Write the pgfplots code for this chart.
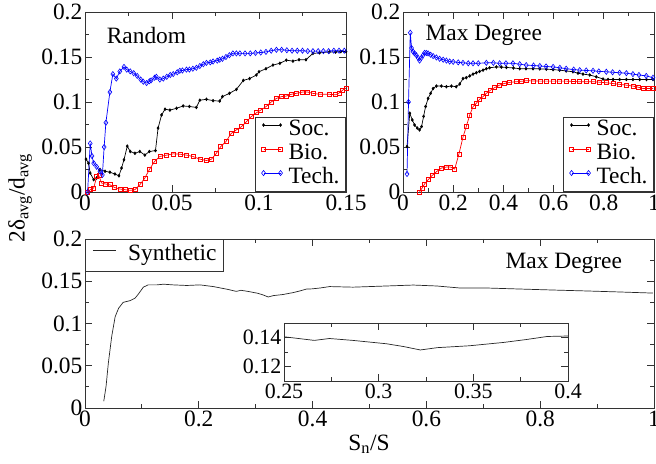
\documentclass[border=0pt]{standalone}
\usepackage{fontspec}
\setmainfont{Liberation Serif}
\usepackage{pgfplots}
\pgfplotsset{compat=1.18}
\usepackage{pgfplotstable}

\definecolor{frame}{gray}{0.2}
\newcommand{\bigfont}{\fontsize{23.5}{25}\selectfont}

% synthetic network, max degree attack
\pgfplotstableread{
x y
0.033 0.008
0.037 0.0256
0.041 0.053
0.047 0.085
0.053 0.108
0.059 0.118
0.067 0.125
0.079 0.127
0.088 0.130
0.094 0.135
0.1025 0.143
0.111 0.1457
0.126 0.1457
0.138 0.1465
0.155 0.1457
0.179 0.145
0.202 0.1457
0.2255 0.1437
0.25 0.1405
0.266 0.138
0.274 0.1393
0.2864 0.138
0.304 0.1357
0.313 0.1338
0.322 0.1314
0.331 0.133
0.348 0.1343
0.366 0.1366
0.378 0.1386
0.389 0.1407
0.399 0.141
0.413 0.142
0.43 0.1437
0.471 0.143
0.53 0.1444
0.577 0.1455
0.618 0.1444
0.659 0.142
0.706 0.142
0.764 0.1408
0.823 0.1396
0.882 0.1385
0.94 0.1373
0.998 0.136
}\synth

\pgfplotsset{
  grace/.style={
    scale only axis,
    tick align=inside,
    major tick length=7bp,
    minor tick length=4bp,
    minor tick num=1,
    axis line style={frame, line width=0.9bp},
    every tick/.append style={frame, line width=0.9bp},
    tick label style={font=\bigfont, inner sep=2.5bp},
    /pgf/number format/assume math mode=true,
    /pgf/number format/fixed,
    /pgf/number format/precision=3,
    legend cell align=left,
    legend style={draw=frame, line width=0.9bp, font=\bigfont,
      inner xsep=6bp, inner ysep=1bp, row sep=0bp, column sep=6bp,
      nodes={inner xsep=0bp, inner ysep=2bp, text height=15bp, text depth=5bp}},
    legend image code/.code={\draw[##1, mark repeat=1, mark phase=1]
      plot coordinates {(0bp,5.5bp) (17bp,5.5bp)};},
  },
  soc/.style={black, line width=0.7bp, mark=diamond*, mark size=1.3bp},
  bio/.style={red, line width=0.7bp, mark=square, mark size=2bp, mark options={line width=0.6bp}},
  tech/.style={blue, line width=0.7bp, mark=diamond, mark size=2.6bp, mark options={line width=0.6bp}},
}

\begin{document}
\begin{tikzpicture}
\useasboundingbox (0,0) rectangle (656bp,464bp);

% ---- Random ----
\begin{axis}[grace, at={(85bp,272bp)}, anchor=south west,
  width=261bp, height=180bp,
  xmin=0, xmax=0.15, ymin=0, ymax=0.2,
  xtick={0,0.05,0.1,0.15}, ytick={0,0.05,0.1,0.15,0.2},
  legend style={at={(1,0)}, anchor=south east}]
\addplot[soc] coordinates {
(0.0006,0.0365) (0.002,0.032) (0.003,0.021) (0.005,0.0137) (0.0067,0.0155)
(0.0086,0.025) (0.0115,0.023) (0.0143,0.022) (0.0172,0.020) (0.0195,0.018)
(0.021,0.0266) (0.0224,0.0358) (0.0243,0.051) (0.026,0.045) (0.0287,0.043)
(0.0315,0.045) (0.0344,0.041) (0.037,0.045) (0.0405,0.046) (0.042,0.071)
(0.044,0.0856) (0.046,0.092) (0.0488,0.091) (0.0526,0.093) (0.0564,0.0956)
(0.060,0.095) (0.064,0.094) (0.066,0.102) (0.0698,0.103) (0.0736,0.1015)
(0.0774,0.101) (0.079,0.106) (0.083,0.1096) (0.087,0.114) (0.091,0.124)
(0.0946,0.126) (0.0985,0.130) (0.100,0.1336) (0.104,0.137) (0.108,0.141)
(0.112,0.143) (0.1157,0.1465) (0.1195,0.1454) (0.123,0.147) (0.127,0.147)
(0.131,0.154) (0.1348,0.1546) (0.1405,0.1557) (0.144,0.1555) (0.147,0.156)
(0.150,0.156)
};
\addlegendentry{Soc.}
\addplot[bio] coordinates {
(0.0015,0) (0.003,0.0026) (0.005,0.0044) (0.0067,0.017) (0.008,0.018)
(0.0095,0.010) (0.0115,0.009) (0.0143,0.008) (0.017,0.005) (0.020,0.0033)
(0.023,0.0026) (0.0258,0.0018) (0.0287,0.0026) (0.0315,0.008) (0.0344,0.0155)
(0.037,0.025) (0.040,0.034) (0.043,0.0395) (0.047,0.041) (0.0507,0.0424)
(0.0545,0.042) (0.0583,0.041) (0.062,0.0395) (0.066,0.0365) (0.0698,0.035)
(0.0727,0.0365) (0.0755,0.043) (0.078,0.0505) (0.081,0.056) (0.084,0.065)
(0.087,0.069) (0.090,0.0727) (0.0927,0.078) (0.0956,0.0838) (0.0985,0.088)
(0.101,0.091) (0.104,0.0948) (0.107,0.100) (0.110,0.104) (0.113,0.106)
(0.1157,0.1066) (0.1185,0.1085) (0.1214,0.1096) (0.125,0.111) (0.128,0.111)
(0.131,0.1096) (0.135,0.1085) (0.1405,0.1085) (0.144,0.108) (0.146,0.110)
(0.148,0.113) (0.150,0.1155)
};
\addlegendentry{Bio.}
\addplot[tech] coordinates {
(0.0015,0) (0.003,0.054) (0.004,0.040) (0.005,0.032) (0.0067,0.028)
(0.0086,0.023) (0.010,0.019) (0.011,0.050) (0.012,0.077) (0.0143,0.111)
(0.016,0.131) (0.018,0.126) (0.020,0.134) (0.0224,0.139) (0.024,0.136)
(0.026,0.134) (0.028,0.132) (0.030,0.129) (0.032,0.125) (0.0335,0.1225)
(0.0354,0.121) (0.037,0.123) (0.038,0.124) (0.040,0.127) (0.041,0.128)
(0.043,0.125) (0.045,0.126) (0.047,0.128) (0.049,0.130) (0.0507,0.131)
(0.053,0.133) (0.0545,0.1347) (0.056,0.135) (0.0583,0.136) (0.060,0.136)
(0.062,0.137) (0.064,0.138) (0.066,0.140) (0.068,0.142) (0.0698,0.1435)
(0.072,0.144) (0.0736,0.145) (0.076,0.146) (0.0774,0.147) (0.079,0.148)
(0.081,0.150) (0.083,0.152) (0.085,0.154) (0.087,0.154) (0.089,0.154)
(0.092,0.154) (0.095,0.154) (0.098,0.1545) (0.101,0.155) (0.104,0.1557)
(0.107,0.157) (0.110,0.158) (0.113,0.158) (0.116,0.1575) (0.119,0.157)
(0.122,0.157) (0.125,0.157) (0.128,0.1565) (0.131,0.1565) (0.134,0.1565)
(0.137,0.1565) (0.140,0.1565) (0.143,0.157) (0.146,0.157) (0.149,0.157)
};
\addlegendentry{Tech.}
\node[anchor=west, font=\bigfont] at (rel axis cs:0.07,0.872) {Random};
\end{axis}

% ---- Max Degree (real networks) ----
\begin{axis}[grace, at={(403bp,272bp)}, anchor=south west,
  width=251bp, height=180bp,
  xmin=0, xmax=1, ymin=0, ymax=0.2,
  xtick={0,0.2,0.4,0.6,0.8,1}, ytick={0,0.05,0.1,0.15,0.2},
  legend style={at={(1,0)}, anchor=south east}]
\addplot[soc] coordinates {
(0.016,0.0505) (0.027,0.0875) (0.037,0.080) (0.046,0.0745) (0.057,0.071)
(0.066,0.069) (0.074,0.0727) (0.082,0.084) (0.090,0.095) (0.100,0.104)
(0.110,0.1096) (0.120,0.115) (0.133,0.1177) (0.153,0.1177) (0.173,0.117)
(0.193,0.1177) (0.212,0.117) (0.226,0.120) (0.239,0.126) (0.252,0.127)
(0.266,0.129) (0.279,0.131) (0.292,0.1325) (0.305,0.134) (0.319,0.1354)
(0.332,0.137) (0.345,0.138) (0.372,0.139) (0.392,0.1388) (0.412,0.1384)
(0.44,0.1378) (0.465,0.137) (0.49,0.137) (0.518,0.137) (0.545,0.1368)
(0.571,0.1365) (0.598,0.136) (0.624,0.1354) (0.65,0.1345) (0.677,0.1336)
(0.697,0.132) (0.717,0.131) (0.744,0.130) (0.770,0.128) (0.797,0.1255)
(0.817,0.125) (0.837,0.125) (0.863,0.125) (0.890,0.125) (0.916,0.125)
(0.943,0.125) (0.970,0.125) (0.996,0.125)
};
\addlegendentry{Soc.}
\addplot[bio] coordinates {
(0.066,0) (0.076,0.0044) (0.086,0.0089) (0.100,0.0137) (0.117,0.0185)
(0.133,0.0225) (0.153,0.0266) (0.173,0.0277) (0.189,0.0277) (0.206,0.0255)
(0.223,0.0424) (0.239,0.061) (0.252,0.0727) (0.266,0.0856) (0.279,0.0948)
(0.292,0.0985) (0.305,0.103) (0.319,0.106) (0.332,0.1096) (0.348,0.113)
(0.365,0.116) (0.385,0.1188) (0.405,0.1207) (0.425,0.1218) (0.4515,0.1225)
(0.471,0.123) (0.491,0.1236) (0.518,0.1234) (0.545,0.1232) (0.571,0.1232)
(0.598,0.1232) (0.624,0.1232) (0.650,0.1232) (0.677,0.1228) (0.704,0.1225)
(0.730,0.1225) (0.757,0.1225) (0.783,0.122) (0.810,0.1214) (0.836,0.1205)
(0.863,0.1196) (0.890,0.1187) (0.916,0.1177) (0.936,0.1165) (0.956,0.115)
(0.976,0.115) (0.996,0.115)
};
\addlegendentry{Bio.}
\addplot[tech] coordinates {
(0.016,0.020) (0.022,0.100) (0.029,0.177) (0.034,0.160) (0.040,0.156)
(0.046,0.154) (0.053,0.152) (0.060,0.149) (0.066,0.146) (0.073,0.149)
(0.080,0.152) (0.086,0.1546) (0.093,0.1545) (0.100,0.154) (0.110,0.1525)
(0.120,0.151) (0.133,0.1495) (0.146,0.148) (0.160,0.147) (0.173,0.146)
(0.186,0.145) (0.200,0.1446) (0.220,0.144) (0.239,0.1435) (0.260,0.143)
(0.279,0.143) (0.300,0.143) (0.332,0.1435) (0.360,0.1435) (0.385,0.143)
(0.410,0.143) (0.438,0.143) (0.465,0.142) (0.491,0.141) (0.520,0.1405)
(0.545,0.140) (0.570,0.1395) (0.598,0.139) (0.625,0.138) (0.650,0.137)
(0.680,0.136) (0.704,0.1354) (0.730,0.135) (0.757,0.1347) (0.780,0.134)
(0.810,0.1336) (0.835,0.133) (0.863,0.1325) (0.890,0.132) (0.916,0.131)
(0.940,0.130) (0.969,0.129) (0.996,0.127)
};
\addlegendentry{Tech.}
\node[anchor=west, font=\bigfont] at (rel axis cs:0.076,0.872) {Max Degree};
\end{axis}

% ---- Synthetic ----
\begin{axis}[grace, at={(85bp,56bp)}, anchor=south west,
  width=569bp, height=169bp,
  xmin=0, xmax=1, ymin=0, ymax=0.2,
  xtick={0,0.2,0.4,0.6,0.8,1}, ytick={0,0.05,0.1,0.15,0.2},
  legend style={at={(0,1)}, anchor=north west, inner xsep=7bp, inner ysep=4bp, column sep=12bp},
  legend image code/.code={\draw[#1] plot coordinates {(0bp,5.5bp) (23bp,5.5bp)};}]
\addplot[black!85, line width=0.7bp] table[x=x, y=y] {\synth};
\addlegendentry{Synthetic}
\node[anchor=west, font=\bigfont] at (rel axis cs:0.733,0.858) {Max Degree};
\end{axis}

% ---- inset ----
\begin{axis}[grace, at={(284bp,83bp)}, anchor=south west,
  width=284bp, height=58bp,
  axis background/.style={fill=white},
  xmin=0.25, xmax=0.4, ymin=0.11, ymax=0.15,
  xtick={0.25,0.3,0.35,0.4}, ytick={0.12,0.14},
  tick label style={font=\fontsize{22}{24}\selectfont}]
\addplot[black!85, line width=0.7bp] table[x=x, y=y] {\synth};
\end{axis}

\node[rotate=90, font=\bigfont] at (20bp,266bp) {2δ\textsubscript{avg}/d\textsubscript{avg}};
\node[anchor=base, font=\bigfont] at (369bp,14bp) {S\textsubscript{n}/S};
\end{tikzpicture}
\end{document}
